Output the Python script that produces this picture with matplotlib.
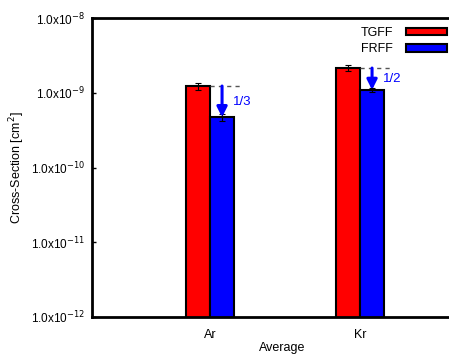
import matplotlib.pyplot as plt
from matplotlib.patches import Patch
import numpy as np

plt.rcParams['font.family'] = ['Liberation Sans', 'DejaVu Sans']

# Data
gases = ['Ar', 'Kr']
tgff = [1.23e-9, 2.14e-9]
tgff_err = [0.13e-9, 0.2e-9]
frff = [4.7e-10, 1.09e-9]
frff_err = [0.45e-10, 0.08e-9]
ratios = ['1/3', '1/2']
yticks = [1e-12, 1e-11, 1e-10, 1e-9, 1e-8]
ytick_labels = ['1.0x10$^{-12}$', '1.0x10$^{-11}$', '1.0x10$^{-10}$',
                '1.0x10$^{-9}$', '1.0x10$^{-8}$']

fig = plt.figure(figsize=(4.49, 3.56), dpi=100)
ax = fig.add_axes([92/449, 39/356, 380/449, 299/356])

x = np.arange(len(gases))
w = 0.16
ax.bar(x - w/2, tgff, w, color='#ff0000', edgecolor='black', linewidth=1.5,
       yerr=tgff_err, error_kw=dict(ecolor='black', elinewidth=0.8, capsize=2, capthick=0.8))
ax.bar(x + w/2, frff, w, color='#0000ff', edgecolor='black', linewidth=1.5,
       yerr=frff_err, error_kw=dict(ecolor='black', elinewidth=0.8, capsize=2, capthick=0.8))

# dashed reference lines and arrows
for i in range(len(gases)):
    ax.plot([x[i] + w/2 - 0.08, x[i] + 0.2], [tgff[i], tgff[i]], color='#555555',
            ls=(0, (3, 3)), lw=1)
    ax.annotate('', xy=(x[i] + 0.08, frff[i]), xytext=(x[i] + 0.08, tgff[i]),
                arrowprops=dict(arrowstyle='-|>', color='#0000ff', lw=2.2,
                                mutation_scale=15, shrinkA=0, shrinkB=0))
    ymid = np.sqrt(tgff[i] * frff[i])
    ax.text(x[i] + 0.15, ymid, ratios[i], color='#0000ff', fontsize=9.5,
            va='center', ha='left')

ax.set_yscale('log')
ax.set_ylim(1e-12, 1e-8)
ax.set_xlim(-0.787, -0.787 + 380/150)
ax.set_yticks(yticks)
ax.set_yticklabels(ytick_labels)
ax.minorticks_off()
ax.set_xticks(x)
ax.set_xticklabels(gases)
ax.tick_params(direction='in', length=3, width=1, labelsize=8.5, pad=5)
ax.tick_params(axis='x', length=0, pad=9, labelsize=9)

for s in ['left', 'bottom', 'top']:
    ax.spines[s].set_linewidth(2)
ax.spines['right'].set_visible(False)

ax.set_ylabel('Cross-Section [cm$^2$]', fontsize=9)
ax.yaxis.set_label_coords((27 - 92) / 380, 0.5)
ax.set_xlabel('Average', fontsize=9)
ax.xaxis.set_label_coords(0.5, (317 - 342) / 299)

handles = [Patch(facecolor='#ff0000', edgecolor='black', lw=1.5, label='TGFF'),
           Patch(facecolor='#0000ff', edgecolor='black', lw=1.5, label='FRFF')]
fig.legend(handles=handles, loc='upper right', bbox_to_anchor=(447/449, 1 - 27/356),
           bbox_transform=fig.transFigure, frameon=False, markerfirst=False,
           fontsize=9, handlelength=3.3, handleheight=0.55, labelspacing=0.35,
           borderaxespad=0, borderpad=0, handletextpad=1.0)

fig.savefig('out.png', dpi=100)
